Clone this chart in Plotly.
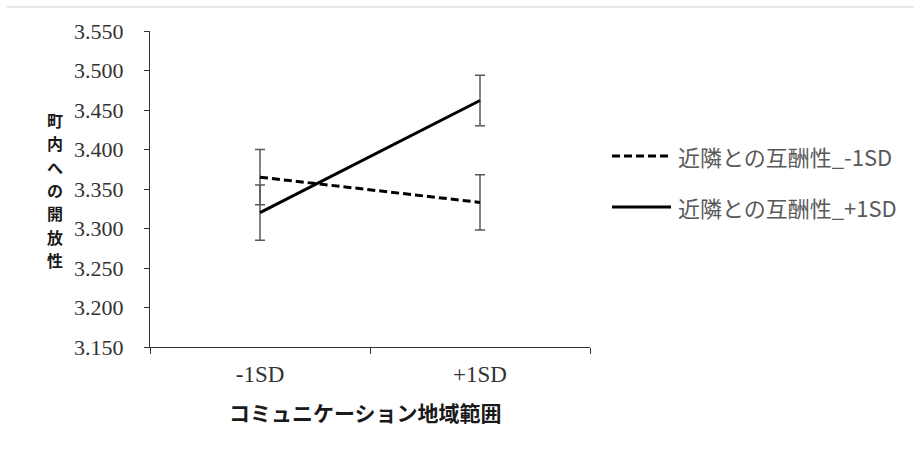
import plotly.graph_objects as go

# Simple-slope data: openness to the neighbourhood by communication range
categories = ["-1SD", "+1SD"]
series_names = ["近隣との互酬性_-1SD", "近隣との互酬性_+1SD"]
low_reciprocity = [3.365, 3.333]
low_reciprocity_se = [0.035, 0.035]
high_reciprocity = [3.320, 3.462]
high_reciprocity_se = [0.035, 0.032]
y_ticks = [3.15, 3.20, 3.25, 3.30, 3.35, 3.40, 3.45, 3.50, 3.55]
y_tick_text = [f"{v:.3f}" for v in y_ticks]

x_title = "コミュニケーション地域範囲"
y_title = "町内への開放性"

serif = "Liberation Serif, Times New Roman, serif"
cjk = "Noto Sans CJK JP, sans-serif"
err_color = "#595959"

series = [
    (low_reciprocity, low_reciprocity_se, "8px,4px"),
    (high_reciprocity, high_reciprocity_se, "solid"),
]

fig = go.Figure()
for (vals, se, dash), name in zip(series, series_names):
    fig.add_trace(go.Scatter(
        x=categories, y=vals, name=name, mode="lines",
        line=dict(color="black", width=3, dash=dash),
        error_y=dict(type="data", array=se, visible=True,
                     color=err_color, thickness=1.5, width=5),
        showlegend=False,
    ))

fig.update_layout(
    width=915, height=453,
    margin=dict(l=150, r=325, t=31, b=106),
    paper_bgcolor="white", plot_bgcolor="white",
    xaxis=dict(
        type="category", range=[-0.5, 1.5], tickson="boundaries",
        ticks="outside", ticklen=6, tickcolor="#333", tickwidth=1,
        showline=True, linecolor="#333", linewidth=1, showgrid=False,
        tickfont=dict(family=serif, size=23, color="#333"),
        ticklabelstandoff=6, zeroline=False,
    ),
    yaxis=dict(
        range=[3.15, 3.55], tickvals=y_ticks, ticktext=y_tick_text,
        ticks="outside", ticklen=5, tickcolor="#333", tickwidth=1,
        showline=True, linecolor="#333", linewidth=1, showgrid=False,
        tickfont=dict(family=serif, size=22, color="#333"),
        ticklabelstandoff=16, zeroline=False,
    ),
    font=dict(family=cjk),
)

# Axis titles (the y title is set vertically, one character at a time)
fig.add_annotation(
    xref="paper", yref="paper", x=(365 - 150) / 440, y=(347 - 412) / 316,
    text=f"<b>{x_title}</b>", showarrow=False,
    font=dict(family=cjk, size=21, color="#1a1a1a"),
    xanchor="center", yanchor="middle",
)
for i, ch in enumerate(y_title):
    cy = 120 + 23.3 * i
    fig.add_annotation(
        xref="paper", yref="paper", x=(55 - 150) / 440, y=(347 - cy) / 316,
        text=f"<b>{ch}</b>", showarrow=False, borderpad=0,
        font=dict(family=cjk, size=16, color="#1a1a1a"),
        xanchor="center", yanchor="middle",
    )

# Legend drawn beside the plot area
legend_rows = [(156, "8px,4px"), (207, "solid")]
for (py, dash), name in zip(legend_rows, series_names):
    yp = (347 - py) / 316
    fig.add_shape(type="line", xref="paper", yref="paper",
                  x0=(612 - 150) / 440, x1=(671 - 150) / 440, y0=yp, y1=yp,
                  line=dict(color="black", width=3, dash=dash))
    fig.add_annotation(
        xref="paper", yref="paper", x=(676 - 150) / 440, y=yp,
        text=name, showarrow=False, xanchor="left", yanchor="middle",
        font=dict(family=cjk, size=22, color="#595959"),
    )

# Thin rule across the top of the page
fig.add_shape(type="line", xref="paper", yref="paper",
              x0=(7 - 150) / 440, x1=(914 - 150) / 440,
              y0=(347 - 7) / 316, y1=(347 - 7) / 316,
              line=dict(color="#e0e0e0", width=1.5))

fig.write_html("out.html")
